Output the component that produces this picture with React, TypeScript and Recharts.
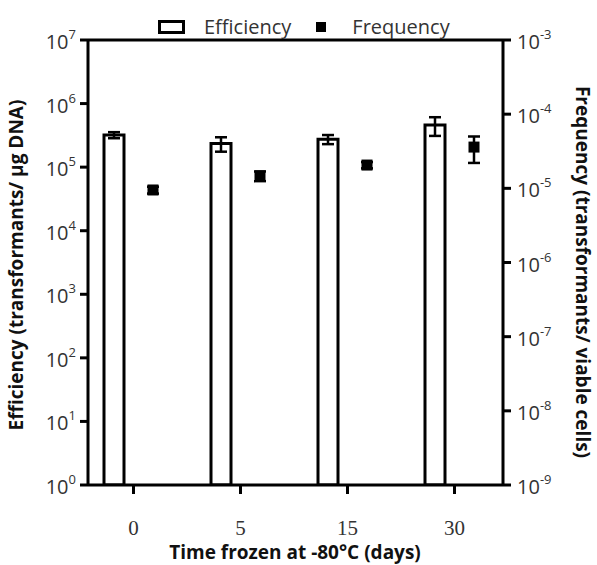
import React from 'react';
import { ComposedChart, Bar, XAxis, YAxis, ErrorBar, ReferenceLine, Legend } from 'recharts';

const days = ['0', '5', '15', '30'];
const efficiency = [3.2e5, 2.35e5, 2.75e5, 4.6e5];
const efficiencyErr = [3.5e4, 6.0e4, 4.5e4, 1.5e5];
const frequency = [9.5e-6, 1.47e-5, 2.06e-5, 3.6e-5];
const frequencyErr = [1.0e-6, 2.2e-6, 2.0e-6, 1.4e-5];
const leftTicks = [1, 10, 100, 1e3, 1e4, 1e5, 1e6, 1e7];
const rightTicks = [1e-9, 1e-8, 1e-7, 1e-6, 1e-5, 1e-4, 1e-3];

const data = days.map((day, i) => ({
  day,
  eff: efficiency[i],
  effErr: efficiencyErr[i],
  freq: frequency[i],
  freqErr: frequencyErr[i],
}));

const SANS = "'Open Sans', 'DejaVu Sans', sans-serif";

const LeftTick = (props: any) => {
  const { x, y, payload } = props;
  const exp = Math.round(Math.log10(payload.value));
  return (
    <text x={x} y={y} textAnchor="end" fontFamily={SANS} fill="#333">
      <tspan fontSize={20} dy={9}>10</tspan>
      <tspan fontSize={13} dy={-10}>{exp}</tspan>
    </text>
  );
};

const RightTick = (props: any) => {
  const { x, y, payload } = props;
  const exp = Math.round(Math.log10(payload.value));
  return (
    <text x={x} y={y} textAnchor="start" fontFamily={SANS} fill="#333">
      <tspan fontSize={20} dy={9}>10</tspan>
      <tspan fontSize={13} dy={-10}>{exp}</tspan>
    </text>
  );
};

const FreqShape = (props: any) => {
  const { x, y, width } = props;
  const cx = x + width / 2;
  return <rect x={cx - 5.5} y={y - 5.5} width={11} height={11} fill="#000" />;
};

const LegendContent = () => (
  <div style={{ display: 'flex', alignItems: 'center', fontFamily: SANS, fontSize: 20, color: '#333', lineHeight: '24px', whiteSpace: 'nowrap' }}>
    <svg width={27} height={14} style={{ display: 'block' }}>
      <rect x={1.5} y={1.5} width={24} height={11} fill="#fff" stroke="#000" strokeWidth={3} />
    </svg>
    <span style={{ marginLeft: 19 }}>Efficiency</span>
    <svg width={10} height={10} style={{ display: 'block', marginLeft: 25 }}>
      <rect x={0} y={0} width={10} height={10} fill="#000" />
    </svg>
    <span style={{ marginLeft: 26 }}>Frequency</span>
  </div>
);

export default function App() {
  return (
    <div style={{ position: 'absolute', left: 0, top: 0, width: 597, height: 565, background: '#fff' }}>
      <ComposedChart
        width={597}
        height={565}
        data={data}
        margin={{ top: 40, right: 34, bottom: 40, left: 28 }}
        barSize={20}
        barGap={19}
      >
        <XAxis
          dataKey="day"
          padding={{ left: -8, right: -5 }}
          height={40}
          axisLine={{ stroke: '#000', strokeWidth: 3 }}
          tickLine={{ stroke: '#000', strokeWidth: 3 }}
          tickSize={9}
          tickMargin={26}
          tick={{ fontFamily: "'Liberation Serif', serif", fontSize: 21, fill: '#333' }}
        />
        <YAxis
          yAxisId="left"
          type="number"
          scale="log"
          domain={[1, 1e7]}
          ticks={leftTicks}
          allowDataOverflow
          width={60}
          axisLine={{ stroke: '#000', strokeWidth: 3 }}
          tickLine={{ stroke: '#000', strokeWidth: 3 }}
          tickSize={8}
          tickMargin={4}
          tick={<LeftTick />}
        />
        <YAxis
          yAxisId="right"
          orientation="right"
          type="number"
          scale="log"
          domain={[1e-9, 1e-3]}
          ticks={rightTicks}
          allowDataOverflow
          width={60}
          axisLine={{ stroke: '#000', strokeWidth: 3 }}
          tickLine={{ stroke: '#000', strokeWidth: 3 }}
          tickSize={8}
          tickMargin={6}
          tick={<RightTick />}
        />
        <ReferenceLine yAxisId="left" y={1e7} stroke="#000" strokeWidth={3} />
        <Bar yAxisId="left" dataKey="eff" fill="#fff" stroke="#000" strokeWidth={3} isAnimationActive={false}>
          <ErrorBar dataKey="effErr" width={6} stroke="#000" strokeWidth={2.5} direction="y" />
        </Bar>
        <Bar yAxisId="right" dataKey="freq" fill="#000" shape={FreqShape} isAnimationActive={false}>
          <ErrorBar dataKey="freqErr" width={6} stroke="#000" strokeWidth={2.5} direction="y" />
        </Bar>
        <Legend
          layout="horizontal"
          verticalAlign="middle"
          align="center"
          wrapperStyle={{ position: 'absolute', top: 15, left: 158, width: 'auto', height: 'auto' }}
          content={LegendContent}
        />
        <text
          x={16}
          y={265}
          transform="rotate(-90 16 265)"
          textAnchor="middle"
          dominantBaseline="central"
          fontFamily={SANS}
          fontWeight="bold"
          fontSize={19}
          fill="#111"
        >
          Efficiency (transformants/ μg DNA)
        </text>
        <text
          x={583}
          y={272}
          transform="rotate(90 583 272)"
          textAnchor="middle"
          dominantBaseline="central"
          fontFamily={SANS}
          fontWeight="bold"
          fontSize={19}
          fill="#111"
        >
          Frequency (transformants/ viable cells)
        </text>
        <text
          x={295}
          y={552}
          textAnchor="middle"
          dominantBaseline="central"
          fontFamily={SANS}
          fontWeight="bold"
          fontSize={19}
          fill="#111"
        >
          Time frozen at -80°C (days)
        </text>
      </ComposedChart>
    </div>
  );
}
